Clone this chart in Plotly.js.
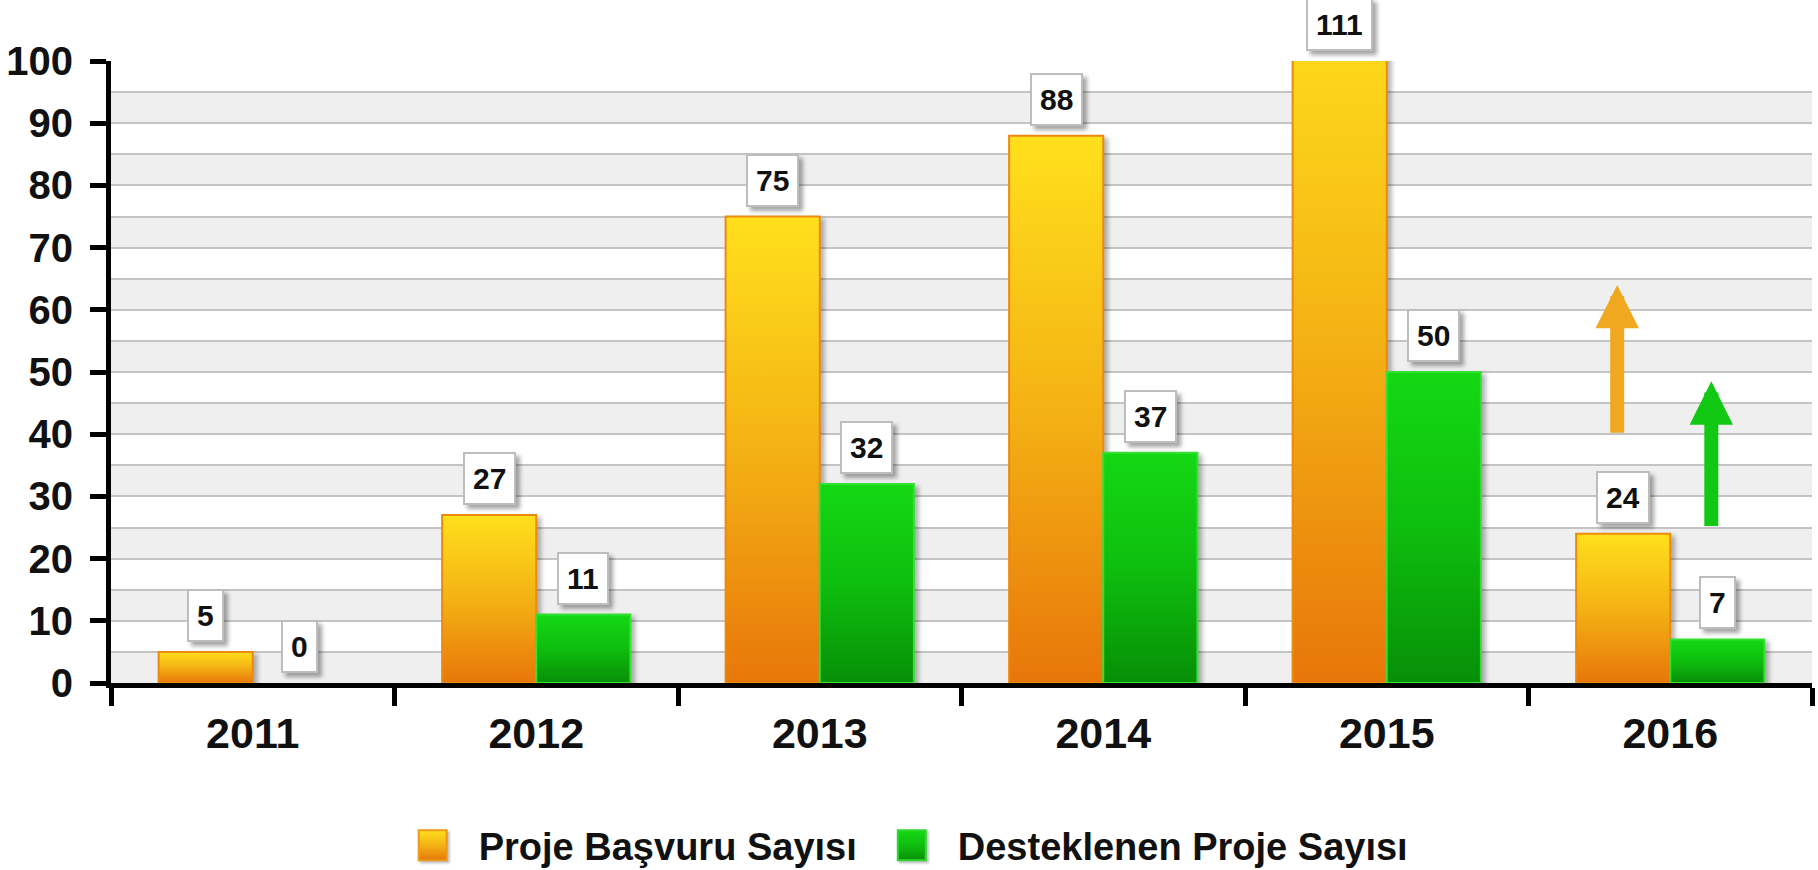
<!DOCTYPE html>
<html>
<head>
<meta charset="utf-8">
<script src="https://cdn.plot.ly/plotly-3.0.1.min.js"></script>
<style>
  html, body { margin: 0; padding: 0; background: #fff; }
  #chart { width: 1818px; height: 870px; }
  .barlayer .point path { filter: drop-shadow(4px 3px 2px rgba(0,0,0,0.28)); }
  .annotation rect.bg { filter: drop-shadow(4px 4px 2px rgba(0,0,0,0.35)); }
  .legend .legendpoints path { filter: drop-shadow(2px 2px 1px rgba(0,0,0,0.25)); }
</style>
</head>
<body>
<svg width="0" height="0" style="position:absolute">
  <defs>
    <linearGradient id="gradOrange" x1="0" y1="0" x2="0" y2="1">
      <stop offset="0" stop-color="#FFE01C"/>
      <stop offset="0.5" stop-color="#F4B214"/>
      <stop offset="1" stop-color="#E8760A"/>
    </linearGradient>
    <linearGradient id="gradGreen" x1="0" y1="0" x2="0" y2="1">
      <stop offset="0" stop-color="#14D814"/>
      <stop offset="0.5" stop-color="#0EBE0E"/>
      <stop offset="1" stop-color="#078F07"/>
    </linearGradient>
  </defs>
</svg>
<div id="chart"></div>
<script>
// ---- data ----
const years = ['2011', '2012', '2013', '2014', '2015', '2016'];
const basvuru = [5, 27, 75, 88, 111, 24];
const desteklenen = [0, 11, 32, 37, 50, 7];
const seriesNames = ['Proje Başvuru Sayısı', 'Desteklenen Proje Sayısı'];
const yTickVals = [0, 10, 20, 30, 40, 50, 60, 70, 80, 90, 100];
const yMax = 100;
// trend arrows drawn over 2016 (tail value, tip value)
const arrowOrange = [40, 64];
const arrowGreen = [25, 48.5];

// ---- style ----
const FONT = '"Liberation Sans", Arial, Helvetica, sans-serif';
const bargap = 0.336;
const half = (1 - bargap) / 4; // offset of each bar centre from category centre
const colors = { o: '#F0A010', g: '#10C810' };

const traces = [
  {
    type: 'bar', name: seriesNames[0], x: years, y: basvuru,
    marker: { color: colors.o, line: { color: '#EC8A0E', width: basvuru.map(v => v > 0 ? 2 : 0) } },
    hoverinfo: 'x+y'
  },
  {
    type: 'bar', name: seriesNames[1], x: years, y: desteklenen,
    marker: { color: colors.g, line: { color: '#35E035', width: desteklenen.map(v => v > 0 ? 2 : 0) } },
    hoverinfo: 'x+y'
  }
];

// alternating background bands (grey in the lower half of every 10-step interval)
const shapes = [];
for (let i = 0; i < yTickVals.length - 1; i++) {
  shapes.push({
    type: 'rect', layer: 'below', xref: 'paper', yref: 'y',
    x0: 0, x1: 1, y0: yTickVals[i], y1: yTickVals[i] + (yTickVals[i + 1] - yTickVals[i]) / 2,
    fillcolor: '#EFEFEF', line: { width: 0 }
  });
}

// value labels
const annotations = [];
function labelFor(vals, sign) {
  vals.forEach((v, i) => {
    annotations.push({
      xref: 'x', yref: 'y', x: i + sign * half, y: Math.min(v, yMax),
      text: String(v), showarrow: false, yanchor: 'bottom', yshift: 10,
      font: { family: FONT, size: 30, color: '#111', weight: 'bold' },
      height: 33,
      bgcolor: '#FFFFFF', bordercolor: '#BDBDBD', borderwidth: 2, borderpad: 8
    });
  });
}
labelFor(basvuru, -1);
labelFor(desteklenen, 1);

function arrow(idx, sign, pair, color) {
  annotations.push({
    xref: 'x', yref: 'y', axref: 'x', ayref: 'y',
    x: idx + sign * half, y: pair[1], ax: idx + sign * half, ay: pair[0],
    xshift: -6,
    text: '', showarrow: true, arrowhead: 2, arrowsize: 0.62, arrowwidth: 14,
    arrowcolor: color, standoff: 0, startstandoff: 0
  });
}
arrow(years.length - 1, -1, arrowOrange, '#F0A820');
arrow(years.length - 1, 1, arrowGreen, '#12C812');

const layout = {
  width: 1818, height: 870,
  margin: { l: 111, r: 6, t: 61, b: 187 },
  paper_bgcolor: '#FFFFFF', plot_bgcolor: '#FFFFFF',
  barmode: 'group', bargap: bargap, bargroupgap: 0,
  font: { family: FONT, color: '#111' },
  showlegend: true,
  legend: {
    orientation: 'h', xref: 'container', yref: 'container',
    x: 0.2105, xanchor: 'left', y: 0.028, yanchor: 'middle',
    font: { family: FONT, size: 38, color: '#111', weight: 'bold' },
    itemwidth: 86, traceorder: 'normal'
  },
  xaxis: {
    type: 'category', tickson: 'boundaries',
    showline: true, linecolor: '#000', linewidth: 5,
    ticks: 'outside', ticklen: 18, tickwidth: 5, tickcolor: '#000',
    showgrid: false, zeroline: false,
    tickfont: { family: FONT, size: 43, color: '#111', weight: 'bold' },
    ticklabelstandoff: 8, fixedrange: true
  },
  yaxis: {
    range: [0, yMax], tickvals: yTickVals,
    showline: true, linecolor: '#000', linewidth: 5,
    ticks: 'outside', ticklen: 16, tickwidth: 5, tickcolor: '#000',
    showgrid: true, gridcolor: '#C4C4C4', gridwidth: 2,
    minor: { dtick: 5, showgrid: true, gridcolor: '#C4C4C4', gridwidth: 2, ticks: '' },
    zeroline: false,
    tickfont: { family: FONT, size: 40, color: '#111', weight: 'bold' },
    ticklabelstandoff: 9, fixedrange: true
  },
  shapes: shapes,
  annotations: annotations
};

Plotly.newPlot('chart', traces, layout, { displayModeBar: false, staticPlot: true }).then(function (gd) {
  const grads = ['url(#gradOrange)', 'url(#gradGreen)'];
  const edges = ['#EC9A18', '#30D830'];
  gd.querySelectorAll('.barlayer .trace').forEach(function (tr, i) {
    tr.querySelectorAll('path').forEach(function (p) { p.style.fill = grads[i]; });
  });
  gd.querySelectorAll('.legend .traces').forEach(function (tr, i) {
    const txt = tr.querySelector('.legendtext');
    let tx = txt ? parseFloat(txt.getAttribute('x')) : NaN;
    if (isNaN(tx)) tx = 96;
    tr.querySelectorAll('.legendpoints path').forEach(function (p) {
      p.setAttribute('d', 'M14,15H-14V-15H14Z');
      p.setAttribute('transform', 'translate(' + (tx - 46) + ',0)');
      p.style.fill = grads[i];
      p.style.stroke = edges[i];
      p.style.strokeWidth = '2px';
    });
  });
});
</script>
</body>
</html>
